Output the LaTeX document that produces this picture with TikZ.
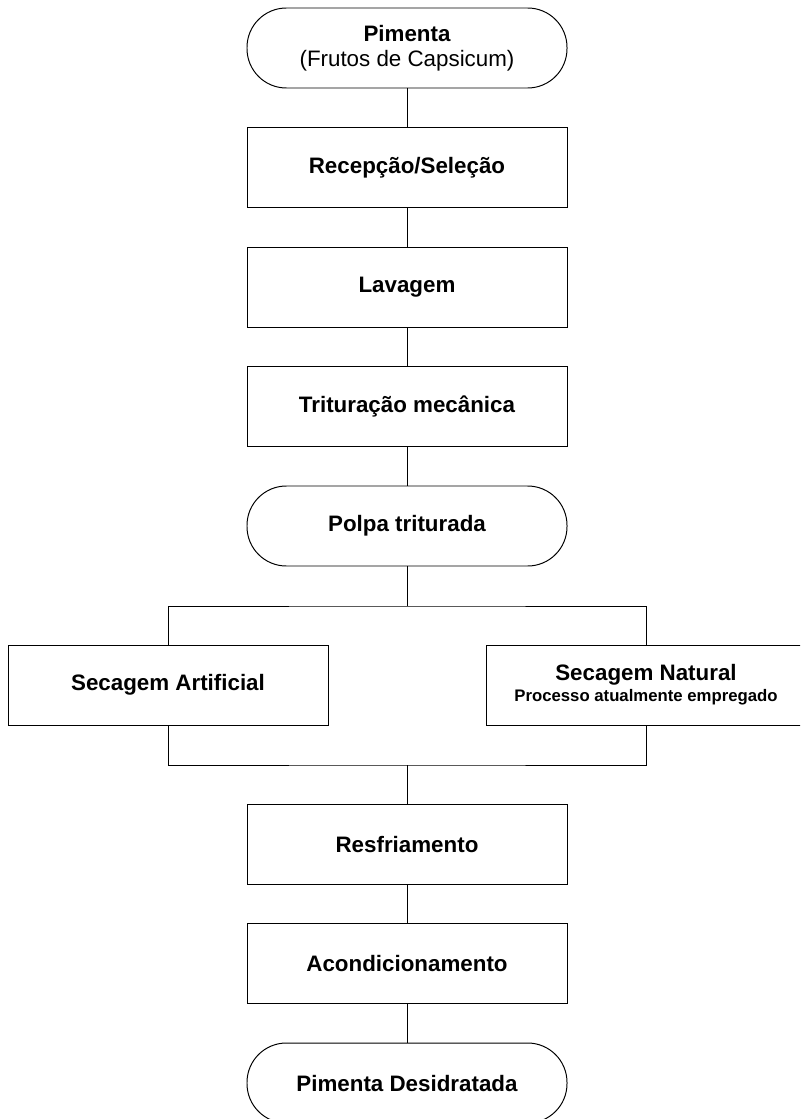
\documentclass[tikz,border=0pt]{standalone}
\usepackage{fontspec}
\setmainfont{Liberation Sans}
\usetikzlibrary{positioning}

\begin{document}
\begin{tikzpicture}[on grid, node distance=2.9875cm, line width=0.7pt,
    etapa/.style={draw, rectangle, minimum width=8cm, minimum height=2cm,
      align=center, font=\fontsize{15.9}{17.8}\selectfont\bfseries},
    terminal/.style={etapa, rounded corners=28pt}]
      \useasboundingbox (0,0) rectangle (20,-27.975);
      \clip (0,0) rectangle (20,-27.975);
      \node[terminal] (pimenta)        at (10.175,-1.2)       {Pimenta\\{\mdseries (Frutos de Capsicum)}};
      \node[etapa]    (recepcao)       [below=of pimenta]     {Recepção/Seleção};
      \node[etapa]    (lavagem)        [below=of recepcao]    {Lavagem};
      \node[etapa]    (trituracao)     [below=of lavagem]     {Trituração mecânica};
      \node[terminal] (polpa)          [below=of trituracao]  {Polpa triturada};
      \coordinate[below=2cm of polpa] (divisao);
      \node[etapa]    (artificial)     [below left=3.975cm and 5.975cm of polpa]  {Secagem Artificial};
      \node[etapa]    (natural)        [below right=3.975cm and 5.975cm of polpa]
        {Secagem Natural\\[-2.8pt]{\fontsize{11.9}{14.9}\selectfont Processo atualmente empregado}};
      \coordinate[below=5.975cm of polpa] (juncao);
      \node[etapa]    (resfriamento)   [below=7.95cm of polpa]       {Resfriamento};
      \node[etapa]    (acondicionamento) [below=of resfriamento]     {Acondicionamento};
      \node[terminal] (desidratada)    [below=of acondicionamento]  {Pimenta Desidratada};
      \path[draw]
        (pimenta)    edge (recepcao)
        (recepcao)   edge (lavagem)
        (lavagem)    edge (trituracao)
        (trituracao) edge (polpa)
        (polpa)      edge (divisao)
        (juncao)     edge (resfriamento)
        (resfriamento)     edge (acondicionamento)
        (acondicionamento) edge (desidratada);
      \draw (artificial.north) |- (divisao) -| (natural.north);
      \draw (artificial.south) |- (juncao) -| (natural.south);
    \end{tikzpicture}
\end{document}
